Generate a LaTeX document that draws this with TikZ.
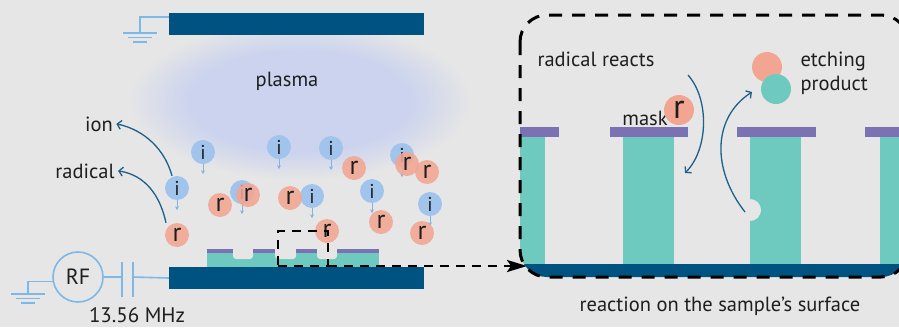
\documentclass[tikz,border=0pt]{standalone}
\usepackage{fontspec}
\setmainfont{PT Sans}
\usetikzlibrary{arrows.meta,positioning}

\definecolor{bgc}{RGB}{230,230,230}
\definecolor{electrode}{RGB}{0,82,128}
\definecolor{wirec}{RGB}{125,185,232}
\definecolor{ionc}{RGB}{160,196,236}
\definecolor{iondrift}{RGB}{130,178,230}
\definecolor{radc}{RGB}{242,166,146}
\definecolor{silicon}{RGB}{110,201,190}
\definecolor{maskc}{RGB}{122,114,178}
\definecolor{flowc}{RGB}{30,95,140}
\definecolor{plasmac}{RGB}{203,211,238}
\definecolor{textc}{RGB}{30,30,30}

\pgfdeclareradialshading{plasmacloud}{\pgfpoint{0bp}{0bp}}{color(0bp)=(plasmac); color(16bp)=(plasmac); color(25bp)=(bgc); color(50bp)=(bgc)}

\tikzset{
	plate/.style={fill=electrode,minimum width=255pt,minimum height=22pt,inner sep=0pt},
	wire/.style={draw=wirec,line width=1.6pt},
	ion/.style={circle,fill=ionc,minimum size=24pt,inner sep=0pt,text=textc,font=\fontsize{20}{20}\selectfont},
	rad/.style={circle,fill=radc,fill opacity=0.88,text opacity=1,minimum size=24pt,inner sep=0pt,text=textc,font=\fontsize{26}{26}\selectfont},
	drift/.style={draw=iondrift,line width=0.9pt,-{Stealth[length=4pt,width=4pt]}},
	flow/.style={draw=flowc,line width=1.3pt,-{Straight Barb[length=4pt,width=9pt]}},
	lbl/.style={font=\fontsize{20.5}{24}\selectfont,text=textc},
	zoomline/.style={draw=black,line width=2.4pt,dash pattern=on 9pt off 7pt},
	ground/.pic={\draw[wire] (-17,0) -- (17,0) (-12,4.5) -- (12,4.5) (-7,9) -- (7,9);},
}

\begin{document}
\begin{tikzpicture}[x=1pt,y=-1pt]

\fill[bgc] (0,0) rectangle (899,327);
\useasboundingbox (0,0) rectangle (899,327);

% glow between the plates
\shade[shading=plasmacloud] (128,22) rectangle (472,180);
\node[lbl,anchor=base] (plasma) at (287,86) {plasma};

% electrodes
\node[plate] (topplate) at (296.5,24) {};
\node[plate] (botplate) at (296.5,278) {};

\coordinate (gndA) at (140,33);
\draw[wire] ([yshift=-4pt]topplate.north west) -| (gndA);
\pic at (gndA) {ground};

% RF source and blocking capacitor
\node[circle,draw=wirec,line width=1.6pt,minimum size=50pt,inner sep=0pt,text=textc,font=\fontsize{22}{22}\selectfont] (rf) at (78,277) {RF};
\coordinate (gndB) at (28,294);
\draw[wire] (rf.190) -| (gndB);
\pic at (gndB) {ground};
\coordinate (capA) at (122,277);
\coordinate (capB) at (133,277);
\draw[wire] (rf.east) -- (capA) (capB) -- (botplate.west);
\draw[wire] (capA) ++(0,-15) -- ++(0,35);
\draw[wire] (capB) ++(0,-15) -- ++(0,35);
\node[anchor=base,text=textc,font=\fontsize{21}{24}\selectfont] (freq) at (137,322) {13.56 MHz};

% patterned sample on the lower electrode
\fill[silicon] (207,252) rectangle (379,267);
\foreach \a/\b in {233/253,275/296,317/337}
	\fill[bgc,rounded corners=3pt] (\a,245) rectangle (\b,259);
\foreach \a/\b in {207/233,253/275,296/317,337/379}
	\fill[maskc] (\a,248.5) rectangle (\b,253);

% ions drifting down
\foreach \n/\x/\y in {1/203/152,2/279/147,3/331/148,4/402/155,5/177/188,6/242/192,7/312/196,8/372/191,9/430/204}{
	\node[ion] (i\n) at (\x,\y) {i};
	\draw[drift] (i\n.south) -- ++(0,10);
}
% radicals
\foreach \n/\x/\y in {1/354/168,2/407/164,3/427/172,4/220/205,5/248/195,6/290/198,7/381/222,8/422/233,9/327/231,10/177/235}
	\node[rad] (r\n) at (\x,\y) {r};

\node[lbl,anchor=base] (ionlbl) at (99,131) {ion};
\node[lbl,anchor=base] (radlbl) at (85,178) {radical};
\draw[flow] ([shift={(-5pt,0pt)}]i5.north) .. controls (165,150) and (145,130) .. (ionlbl.east);
\draw[flow] ([shift={(-11pt,0pt)}]r10.north) .. controls (160,195) and (145,175) .. (radlbl.east);

% magnified region
\node[zoomline,minimum width=50pt,minimum height=35pt,inner sep=0pt,outer sep=0pt] (zoomwin) at (303,248.5) {};
\coordinate (tipc) at (527,266);
\draw[zoomline,-{Stealth[length=20pt,width=12pt,inset=4pt]}] (zoomwin.south east) -- (tipc);

\coordinate (frameNW) at (520,15);
\coordinate (frameSE) at (908,277);
\begin{scope}
	\clip[rounded corners=27pt] (frameNW) rectangle (frameSE);
	\foreach \a/\b in {500/545,623/674,750/801,880/931}
		\fill[silicon] (\a,137) rectangle (\b,264);
	\foreach \a/\b in {490/559,610/688,737/816,865/945}
		\fill[maskc] (\a,127) rectangle (\b,137);
	\fill[bgc] (750,210) circle (11);
	\fill[electrode] (500,264) rectangle (920,290);
\end{scope}
\draw[draw=black,line width=3pt,dash pattern=on 13pt off 10pt,rounded corners=27pt] (frameNW) rectangle (frameSE);

\node[lbl,anchor=base] (reacts) at (596,66) {radical reacts};
\node[lbl,anchor=base] (masklbl) at (645,125) {mask};
\node[circle,fill=radc,minimum size=30pt,inner sep=0pt,text=textc,font=\fontsize{34}{34}\selectfont] (rbig) at (679,110) {r};
\coordinate (hitA) at (688,75);
\coordinate (hitB) at (685,173);
\draw[flow] (hitA) .. controls (710,100) and (708,150) .. (hitB);

\node[circle,fill=radc,minimum size=30pt,inner sep=0pt] (prodr) at (767,67) {};
\node[circle,fill=silicon,minimum size=30pt,inner sep=0pt] (prods) at (776,89) {};
\node[lbl,anchor=base west] (etch) at (797,66) {etching};
\node[lbl,anchor=base west] (prod) at ([yshift=-24pt]etch.base west) {product};
\coordinate (notch) at (745,212);
\draw[flow] (notch) .. controls (712,170) and (712,118) .. (752,92);

\node[lbl,anchor=base] (surf) at (720,311) {reaction on the sample’s surface};

\end{tikzpicture}
\end{document}
